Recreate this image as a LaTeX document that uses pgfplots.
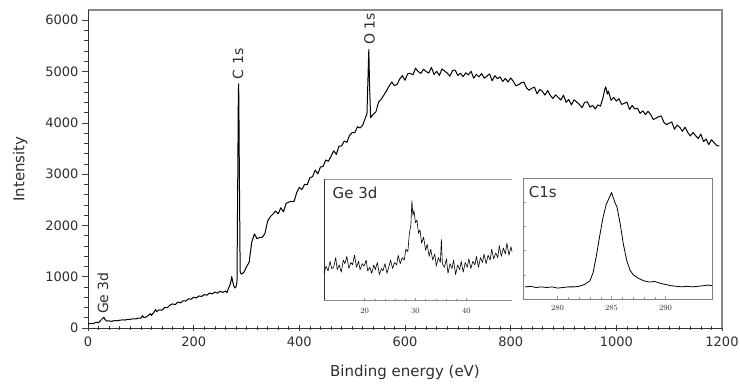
\documentclass[border=0pt]{standalone}
\usepackage{pgfplots}
\pgfplotsset{compat=1.18}
\usepackage{fontspec}
\setmainfont{DejaVu Sans}
\definecolor{framegray}{HTML}{8A8A8A}
\definecolor{txt}{HTML}{2E2E2E}
\begin{document}
\begin{tikzpicture}
\begin{axis}[
  at={(88pt,59pt)}, anchor=south west,
  scale only axis, width=634pt, height=318pt,
  xmin=0, xmax=1200, ymin=0, ymax=6200,
  clip=false,
  axis line style={draw=none},
  xtick={0,200,...,1200}, ytick={0,1000,...,6000},
  minor x tick num=9, minor y tick num=4,
  xtick pos=bottom, ytick pos=left,
  xtick align=center, ytick align=outside,
  major tick length=6pt, minor tick length=4pt,
  tick style={black!75, line width=0.6pt},
  /pgf/number format/assume math mode=true,
  /pgf/number format/1000 sep={},
  tick label style={font=\fontsize{13}{14}\selectfont, text=txt},
  xticklabel style={yshift=-2pt},
  xlabel={Binding energy (eV)}, ylabel={Intensity},
  label style={font=\fontsize{15}{16}\selectfont, text=txt},
  xlabel style={at={(axis description cs:0.5,-0.138)}, anchor=center},
  ylabel style={at={(axis description cs:-0.107,0.5)}, anchor=center},
]
\draw[framegray, line width=1.6pt] (rel axis cs:0,1) -- (rel axis cs:1,1) -- (rel axis cs:1,0);
\draw[black!80, line width=0.7pt] (rel axis cs:0,1) -- (rel axis cs:0,0) -- (rel axis cs:1,0);
\addplot[black, line width=1pt, line join=round] coordinates {
(0,75) (5,90) (10,85) (15,110) (20,105) (25,160) (28,190) (30,210) (32,170) (35,135)
(40,140) (45,128) (50,145) (55,140) (60,152) (65,158) (70,155) (75,170) (80,168) (85,180)
(90,176) (95,192) (100,190) (103,240) (106,200) (110,215) (115,250) (118,280) (120,245) (125,310)
(128,360) (130,320) (135,355) (140,345) (145,400) (150,395) (155,445) (160,470) (165,455) (170,505)
(175,490) (180,530) (185,525) (190,570) (195,560) (200,600) (205,585) (210,625) (215,615) (220,650)
(225,640) (230,680) (235,665) (240,700) (245,680) (250,715) (255,695) (260,720) (263,690) (265,750)
(268,820) (270,880) (272,1000) (274,900) (276,820) (278,780) (280,800) (282,900) (283.5,3000) (284.5,4500)
(285,4760) (285.5,4500) (286.5,3000) (288,1100) (290,1050) (295,1085) (300,1195) (305,1280) (310,1680) (315,1835)
(320,1740) (325,1765) (330,1770) (335,1845) (340,2085) (345,2170) (350,2220) (355,2280) (360,2225) (365,2345)
(370,2265) (375,2430) (380,2455) (385,2470) (390,2465) (395,2640) (400,2740) (405,2700) (410,2800) (415,2795)
(420,2930) (425,2950) (430,3080) (435,3005) (440,3140) (445,3150) (450,3275) (455,3250) (460,3350) (465,3455)
(470,3385) (475,3545) (480,3550) (485,3645) (490,3620) (495,3755) (500,3810) (505,3810) (510,3925) (515,3900)
(520,3955) (525,4100) (528,4170) (530,4900) (531.5,5430) (533,4700) (535,4100) (540,4170) (545,4215) (550,4405)
(555,4460) (560,4540) (565,4625) (570,4720) (575,4795) (580,4725) (585,4750) (590,4855) (595,4920) (600,4830)
(605,4955) (610,4965) (615,4935) (620,5065) (625,5000) (630,4965) (635,5045) (640,5000) (645,4970) (650,5080)
(655,4945) (660,5005) (665,4925) (670,5050) (675,5010) (680,4970) (685,4910) (690,5020) (695,5030) (700,4925)
(705,4965) (710,4900) (715,4975) (720,4935) (725,5005) (730,4870) (735,4945) (740,4895) (745,4960) (750,4870)
(755,4910) (760,4955) (765,4820) (770,4920) (775,4860) (780,4895) (785,4805) (790,4865) (795,4795) (800,4875)
(805,4810) (810,4720) (815,4745) (820,4780) (825,4795) (830,4680) (835,4635) (840,4675) (845,4695) (850,4565)
(855,4650) (860,4615) (865,4540) (870,4630) (875,4535) (880,4475) (885,4545) (890,4495) (895,4445) (900,4540)
(905,4400) (910,4455) (915,4350) (920,4450) (925,4405) (930,4360) (935,4295) (940,4400) (945,4410) (950,4305)
(955,4340) (960,4270) (965,4350) (970,4325) (975,4500) (978,4650) (980,4700) (983,4560) (985,4620) (990,4440)
(995,4495) (1000,4425) (1005,4470) (1010,4360) (1015,4380) (1020,4405) (1025,4260) (1030,4340) (1035,4270) (1040,4285)
(1045,4185) (1050,4235) (1055,4160) (1060,4225) (1065,4160) (1070,4065) (1075,4090) (1080,4120) (1085,4135) (1090,4010)
(1095,3965) (1100,3995) (1105,4015) (1110,3875) (1115,3955) (1120,3915) (1125,3835) (1130,3915) (1135,3815) (1140,3745)
(1145,3810) (1150,3750) (1155,3695) (1160,3780) (1165,3635) (1170,3685) (1175,3575) (1180,3670) (1185,3615) (1190,3555)
(1195,3550)
};
\node[rotate=90, anchor=west, font=\fontsize{14}{15}\selectfont, text=txt, inner sep=1pt] at (axis cs:284,4830) {C 1s};
\node[rotate=90, anchor=west, font=\fontsize{14}{15}\selectfont, text=txt, inner sep=1pt] at (axis cs:533,5500) {O 1s};
\node[rotate=90, anchor=west, font=\fontsize{14}{15}\selectfont, text=txt, inner sep=1pt] at (axis cs:28,250) {Ge 3d};
\end{axis}

% Ge 3d inset
\begin{axis}[
  at={(324pt,87pt)}, anchor=south west,
  scale only axis, width=188pt, height=121pt,
  xmin=12, xmax=49, ymin=0, ymax=100,
  clip=false,
  axis background/.style={fill=white},
  axis line style={draw=none},
  xtick={20,30,40}, minor x tick num=4, ytick=\empty,
  xtick pos=bottom, xtick align=center,
  major tick length=3pt, minor tick length=2pt,
  tick style={black!45, line width=0.4pt},
  tick label style={font=\fontsize{8}{9}\selectfont, text=txt},
  xticklabel style={yshift=-3pt},
]
\draw[black!40, line width=0.8pt] (rel axis cs:0,1) -- (rel axis cs:1,1);
\draw[black!45, line width=0.6pt] (rel axis cs:0,0) -- (rel axis cs:1,0);
\draw[black!80, line width=0.8pt] (rel axis cs:0,0) -- (rel axis cs:0,1);
\addplot[black, line width=0.6pt, line join=round] coordinates {
(12,22) (12.4,28) (12.8,24) (13.2,32) (13.5,26) (13.9,27) (14.3,35) (14.6,25) (15,29) (15.4,23)
(15.8,33) (16.1,30) (16.5,36) (16.9,26) (17.3,31) (17.6,29) (18,37) (18.4,27) (18.8,32) (19.1,25)
(19.5,30) (19.9,28) (20.3,33) (20.6,24) (21,27) (21.4,22) (21.8,29) (22.1,25) (22.5,31) (22.9,21)
(23.3,26) (23.6,24) (24,30) (24.4,22) (24.8,28) (25.1,33) (25.5,26) (25.9,31) (26.3,29) (26.6,37)
(27,30) (27.4,35) (27.8,33) (28.1,42) (28.5,40) (28.8,55) (29.1,62) (29.3,82) (29.5,70) (29.7,74)
(30,64) (30.3,66) (30.6,55) (30.9,58) (31.2,47) (31.6,52) (32,41) (32.3,46) (32.7,36) (33,42)
(33.4,33) (33.8,38) (34.1,28) (34.5,35) (34.9,31) (35.1,50) (35.3,30) (35.7,27) (36.1,34) (36.4,22)
(36.8,30) (37.2,26) (37.5,33) (37.9,21) (38.3,29) (38.7,25) (39,32) (39.4,23) (39.8,31) (40.2,27)
(40.5,34) (40.9,26) (41.3,32) (41.7,29) (42,36) (42.4,27) (42.8,35) (43.2,31) (43.5,38) (43.9,30)
(44.3,37) (44.7,33) (45,42) (45.4,34) (45.8,39) (46.2,35) (46.5,45) (46.9,36) (47.3,43) (47.7,38)
(48,47) (48.4,37) (48.8,44) (49,40)
};
\node[anchor=north west, font=\fontsize{15}{16}\selectfont, text=txt, inner sep=0pt] at (rel axis cs:0.045,0.935) {Ge 3d};
\end{axis}

% C1s inset
\begin{axis}[
  at={(523pt,88pt)}, anchor=south west,
  scale only axis, width=189pt, height=121pt,
  xmin=276.8, xmax=294.3, ymin=0, ymax=100,
  axis background/.style={fill=white},
  axis line style={black!50, line width=0.9pt},
  xtick={280,285,290}, minor x tick num=4, ytick={20,40,60,80},
  yticklabels={},
  xtick pos=bottom, ytick pos=left, tick align=inside,
  major tick length=2.5pt, minor tick length=1.5pt,
  tick style={black!40, line width=0.4pt},
  tick label style={font=\fontsize{8}{9}\selectfont, text=txt},
  xticklabel style={yshift=-3pt},
]
\addplot[black, line width=0.8pt, line join=round] coordinates {
(277,10) (277.5,10.5) (278,9.5) (278.5,10) (279,9.5) (279.5,10) (280,9) (280.5,9.5) (281,10) (281.5,10)
(282,10.5) (282.5,12) (283,15) (283.3,22) (283.6,36) (283.9,52) (284.2,67) (284.5,78) (284.7,82) (285,88)
(285.3,80) (285.5,76) (285.8,62) (286.1,45) (286.4,32) (286.7,24) (287,20) (287.5,17) (288,15) (288.5,14)
(289,14.5) (289.5,13) (290,12) (290.5,11) (291,10.5) (291.5,10) (292,10.5) (292.5,10) (293,10.5) (293.5,11)
(294,11.5) (294.3,11)
};
\node[anchor=north west, font=\fontsize{15}{16}\selectfont, text=txt, inner sep=0pt] at (rel axis cs:0.03,0.935) {C1s};
\end{axis}
\pgfresetboundingbox
\useasboundingbox (0,0) rectangle (740pt,387pt);
\end{tikzpicture}
\end{document}
